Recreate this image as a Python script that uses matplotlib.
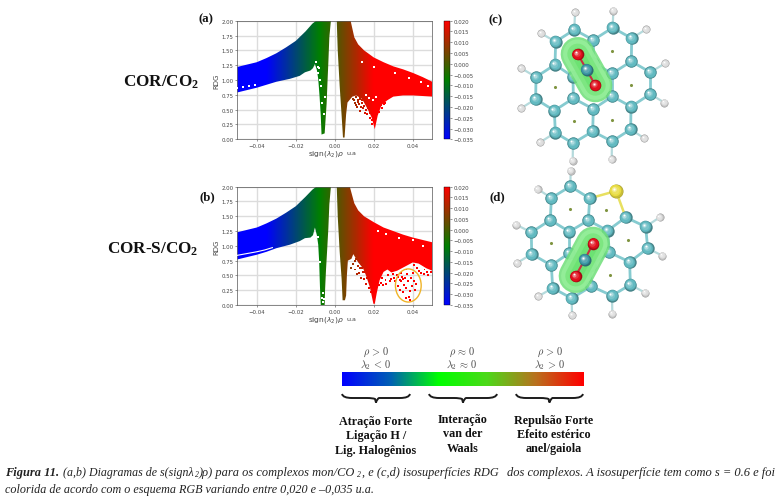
import numpy as np
import matplotlib
matplotlib.use("Agg")
import matplotlib.pyplot as plt
from matplotlib.colors import LinearSegmentedColormap, Normalize, to_rgb
from matplotlib.patches import Polygon, Ellipse, PathPatch
from matplotlib.path import Path
from matplotlib.cm import ScalarMappable

plt.rcParams['mathtext.fontset'] = 'custom'
plt.rcParams['mathtext.rm'] = 'Liberation Serif:bold'
plt.rcParams['mathtext.it'] = 'Liberation Serif:italic'
plt.rcParams['mathtext.bf'] = 'Liberation Serif:bold'

# ---------------- RDG data: envelopes ----------------
a_left_x = [-.05,-.045,-.04,-.035,-.03,-.025,-.02,-.015,-.0115,-.0095,-.002,-.0028,-.0033,-.0037,-.0042,-.0048,-.0052,-.0068,-.0072,-.0078,-.0085,-.0092,-.0102,-.0112,-.0125,-.0153,-.018,-.023,-.03,-.035,-.04,-.045,-.05]
a_left_y = [1.22,1.26,1.30,1.37,1.45,1.55,1.66,1.82,1.95,2.0,2.0,1.72,1.3,1.0,.6,.3,.1,.08,.4,.72,1.02,1.17,1.27,1.2,1.16,1.13,1.07,1.02,.97,.92,.87,.83,.79]
a_right_x = [.001,.0081,.01,.012,.015,.02,.025,.03,.035,.04,.045,.05,.05,.045,.04,.035,.03,.027,.024,.022,.0205,.019,.017,.014,.011,.009,.0075,.0065,.0058,.005,.0042,.0035,.0025,.0015]
a_right_y = [2.0,2.0,1.72,1.6,1.5,1.38,1.3,1.23,1.18,1.12,1.05,.97,.72,.73,.74,.74,.72,.66,.58,.4,.17,.36,.5,.68,.74,.72,.66,.62,.42,.03,.03,.4,.9,1.5]
a_dots_x = [.0095,.0105,.011,.012,.0125,.013,.0135,.014,.0145,.015,.0155,.016,.0165,.017,.0175,.018,.0185,.019,.0195,.02,.021,.022,.023,.024,.025,.0115,.013,.015,.016,.018,.019,.0205,.0215,.0225,.0235,.01,.0108,.0118,.0128,.0138,.0148,.0158,.0168,.0178,.0188,.0198,.0208,.0218,.0228,.0238,.0248,.0258,.0268]
a_dots_y = [.68,.62,.72,.66,.6,.72,.55,.66,.52,.7,.45,.62,.42,.58,.78,.36,.68,.32,.55,.74,.5,.58,.66,.52,.6,.55,.48,.76,.5,.44,.26,.34,.72,.46,.7,.66,.58,.63,.68,.61,.56,.74,.52,.66,.48,.4,.62,.54,.64,.58,.66,.62,.68]
a_white_x = [-.0088,-.0085,-.008,-.0078,-.0072,-.0065,-.0055,-.0048,-.0105,-.0098,.014,.02,.031,.038,.044,.048,-.05,-.047,-.044,-.041,.016,.0175,.0195,.021]
a_white_y = [1.22,1.12,1.2,1.0,.9,.62,.42,.72,1.18,1.3,1.3,1.22,1.12,1.03,.97,.9,.87,.88,.9,.92,.74,.7,.66,.72]

b_left_x = [-.05,-.045,-.04,-.035,-.03,-.025,-.02,-.015,-.0115,-.0095,-.002,-.0028,-.0033,-.0038,-.0045,-.005,-.0052,-.0072,-.0076,-.008,-.0085,-.0092,-.0102,-.0112,-.0125,-.0153,-.018,-.023,-.03,-.035,-.04,-.045,-.05]
b_left_y = [1.23,1.27,1.31,1.38,1.46,1.56,1.67,1.83,1.95,2.0,2.0,1.7,1.3,1.0,.6,.25,0,0,.3,.72,1.02,1.18,1.31,1.18,1.14,1.13,1.08,1.02,.96,.9,.85,.81,.77]
b_right_x = [.001,.0077,.01,.012,.015,.02,.025,.03,.035,.04,.045,.05,.05,.047,.043,.04,.036,.032,.029,.027,.025,.023,.0215,.0205,.0198,.018,.016,.0145,.012,.0095,.0085,.0067,.0062,.0058,.0052,.004,.0035,.0025,.0015]
b_right_y = [2.0,2.0,1.72,1.6,1.5,1.4,1.31,1.25,1.19,1.14,1.1,1.06,.58,.62,.7,.72,.65,.58,.55,.6,.56,.42,.2,.02,.02,.3,.5,.62,.72,.86,.78,.75,.5,.16,.08,.08,.44,.9,1.5]
b_dots_x = [.0085,.0095,.0105,.011,.012,.0125,.013,.0135,.014,.015,.0155,.016,.017,.0175,.018,.0185,.019,.0225,.024,.026,.0275,.029,.03,.031,.0325,.034,.035,.0365,.042,.044,.046,.048,.0495,.0405,.0455,.0102,.0115,.0128,.0142,.0152,.0165,.0178,.0225,.0235,.0248,.0265,.0285,.0305,.0318,.0335,.0432,.0472]
b_dots_y = [.62,.7,.6,.78,.66,.54,.72,.46,.62,.44,.68,.36,.58,.28,.42,.22,.34,.34,.46,.42,.5,.44,.52,.4,.48,.54,.44,.6,.62,.54,.6,.5,.55,.68,.52,.74,.52,.62,.56,.56,.46,.48,.46,.38,.34,.36,.4,.46,.5,.42,.58,.56]
b_oval_x = [.0325,.0335,.034,.035,.0355,.036,.0365,.037,.0375,.038,.0385,.039,.0395,.04,.0405,.041,.0415,.0365,.0385,.0345]
b_oval_y = [.32,.26,.4,.22,.34,.46,.28,.52,.4,.14,.24,.46,.32,.54,.4,.26,.36,.12,.09,.48]
b_white_x = [-.05,-.045,-.04,-.036,-.032]
b_white_y = [.84,.87,.9,.93,.97]
b_speck_x = [-.0068,-.0062,-.0055,-.0075,-.0085,-.0058,.022,.026,.033,.04,.045]
b_speck_y = [.12,.2,.1,.72,1.15,.05,1.25,1.2,1.14,1.1,1.0]

x_ticks = [-.04,-.02,0,.02,.04]
x_tick_labels = ['−0.04','−0.02','0.00','0.02','0.04']
y_ticks = [0,.25,.5,.75,1,1.25,1.5,1.75,2]
y_tick_labels = ['0.00','0.25','0.50','0.75','1.00','1.25','1.50','1.75','2.00']
cb_ticks = [.02,.015,.01,.005,0,-.005,-.01,-.015,-.02,-.025,-.03,-.035]
cb_tick_labels = ['0.020','0.015','0.010','0.005','0.000','−0.005','−0.010','−0.015','−0.020','−0.025','−0.030','−0.035']

# ---------------- molecule atoms, in page pixels ----------------
def zc(p): return [(480+x/3, 5+y/3) for x, y in p]
def zd(p): return [(480+x/3, 170+y/3) for x, y in p]
c_carbons = zc([(283,77),(340,108),(398,71),(455,103),(227,113),(225,182),(168,219),(167,285),(223,320),(280,283),(279,218),(340,315),(397,277),(397,208),(454,172),(511,205),(511,270),(453,308),(452,376),(396,412),(338,382),(279,418),(226,386),(340,178)])
c_hydrogens = zc([(285,25),(400,20),(498,76),(555,178),(553,296),(493,403),(395,466),(278,470),(180,415),(123,313),(124,193),(183,88)])
c_dots = zc([(397,142),(224,250),(454,242),(281,351),(396,347)])
c_co2 = zc([(293,150),(320,197),(346,244)])
d_carbons = zd([(271,52),(329,88),(214,87),(211,153),(154,190),(155,255),(214,289),(268,188),(325,154),(383,185),(437,145),(497,173),(503,238),(449,279),(388,250),(451,347),(396,380),(334,352),(275,388),(218,357),(268,252),(330,290)])
d_hydrogens = zd([(272,5),(173,60),(108,167),(111,282),(175,382),(276,438),(397,434),(495,371),(547,260),(539,145)])
d_sulfur = zd([(408,66)])
d_dots = zd([(270,121),(379,124),(443,213),(212,222),(390,318)])
d_co2 = zd([(339,224),(314,272),(287,321)])

# ---------------- figure ----------------
W, H = 782, 502
fig = plt.figure(figsize=(W/100, H/100), dpi=100, facecolor='white')
cmap = LinearSegmentedColormap.from_list('rdg', [(0,0,1), (0,.5,0), (1,0,0)])
norm = Normalize(-.035, .02)
def rect(l, t, r, b): return [l/W, 1-b/H, (r-l)/W, (b-t)/H]

page = fig.add_axes([0,0,1,1], zorder=0)
page.set_xlim(0, W); page.set_ylim(H, 0); page.axis('off')

GRAD = np.linspace(-.05, .05, 500)[None, :]
TXT = '#444444'

def panel(top, bottom, polys, dots, whites, white_line=None, oval=None, extra=None):
    ax = fig.add_axes(rect(237.3, top, 432.3, bottom), zorder=2)
    ax.set_xlim(-.05, .05); ax.set_ylim(0, 2)
    ax.grid(True, color='#dcdcdc', lw=1.0); ax.set_axisbelow(True)
    for px, py in polys:
        patch = Polygon(np.column_stack([px, py]), closed=True, transform=ax.transData, fc='none', ec='none')
        ax.add_patch(patch)
        im = ax.imshow(GRAD, cmap=cmap, norm=norm, extent=(-.05, .05, 0, 2), aspect='auto', zorder=2, interpolation='bilinear')
        im.set_clip_path(patch)
    ax.set_xlim(-.05, .05); ax.set_ylim(0, 2)
    ax.scatter(dots[0], dots[1], c=dots[0], cmap=cmap, norm=norm, s=2.0, marker='s', lw=0, zorder=3)
    if extra is not None:
        ax.scatter(extra[0], extra[1], c=extra[0], cmap=cmap, norm=norm, s=2.0, marker='s', lw=0, zorder=3)
    ax.scatter(whites[0], whites[1], c='white', s=1.4, marker='s', lw=0, zorder=3)
    if white_line is not None:
        ax.plot(white_line[0], white_line[1], color='white', lw=.8, zorder=3)
    if oval is not None:
        ax.add_patch(Ellipse(oval, .0132, .56, fc='none', ec='#f0b428', lw=1.0, zorder=4))
    ax.set_xticks(x_ticks, x_tick_labels); ax.set_yticks(y_ticks, y_tick_labels)
    ax.tick_params(labelsize=3.9, length=1.5, width=.4, pad=1.2, colors=TXT)
    for s in ax.spines.values():
        s.set_linewidth(.5); s.set_color('#555555')
    ax.set_ylabel('RDG', fontsize=5, labelpad=1.5, color=TXT)
    cax = fig.add_axes(rect(444.3, top, 450, bottom), zorder=2)
    cb = fig.colorbar(ScalarMappable(norm=norm, cmap=cmap), cax=cax)
    cb.set_ticks(cb_ticks, labels=cb_tick_labels)
    cb.ax.tick_params(labelsize=3.9, length=1.2, width=.4, pad=1.2, colors=TXT)
    cb.outline.set_linewidth(.3)
    page.text(326, bottom+14, r'sign($\lambda_2$)$\rho$', fontsize=5.4, color=TXT, ha='center', va='center', math_fontfamily='dejavusans')
    page.text(351, bottom+13.5, 'u.a', fontsize=4.6, color=TXT, ha='center', va='center')

panel(21.7, 140.3, [(a_left_x, a_left_y), (a_right_x, a_right_y)], (a_dots_x, a_dots_y), (a_white_x, a_white_y))
panel(187.7, 306, [(b_left_x, b_left_y), (b_right_x, b_right_y)], (b_dots_x, b_dots_y), (b_speck_x, b_speck_y),
      white_line=(b_white_x, b_white_y), oval=(.0377, .33), extra=(b_oval_x, b_oval_y))

# ---------------- row labels ----------------
serif = 'Liberation Serif'
for x, y, s in [(206, 19, '(a)'), (207, 197, '(b)'), (496, 20, '(c)'), (497, 197, '(d)')]:
    page.text(x, y, s, family=serif, weight='bold', fontsize=9.2, ha='center', va='center', color='#151515')
page.text(161, 82, r'COR/CO$_{\mathbf{2}}$', family=serif, weight='bold', fontsize=12.3, ha='center', va='center', color='#111111')
page.text(153, 249, r'COR-S/CO$_{\mathbf{2}}$', family=serif, weight='bold', fontsize=12.3, ha='center', va='center', color='#111111')

# ---------------- molecules ----------------
def sphere(pts, r, col, z):
    xs, ys = zip(*pts)
    base = np.array(to_rgb(col))
    steps = [(1.0, .70, 0), (.94, .86, .03), (.82, 1.0, .08), (.58, 1.1, .16), (.34, 1.3, .24), (.15, 1.7, .30)]
    for i, (f, m, off) in enumerate(steps):
        c = np.clip(base*m, 0, 1) if m <= 1 else np.clip(base + (1-base)*(m-1)*1.6, 0, 1)
        page.scatter(np.array(xs)-off*r, np.array(ys)-off*r, s=(2*f*r*.72)**2, color=[c], lw=0, zorder=z+i*.01)

def bonds(pts, cutoff, col, lw, z):
    P = np.array(pts)
    for i in range(len(P)):
        for j in range(i+1, len(P)):
            if np.hypot(*(P[i]-P[j])) < cutoff:
                page.plot(P[[i,j],0], P[[i,j],1], color=col, lw=lw, zorder=z, solid_capstyle='round')

def link(A, B, col, lw, z):
    for a in A:
        B2 = np.array(B)
        d = np.hypot(*(B2-np.array(a)).T)
        k = d.argmin()
        page.plot([a[0], B2[k,0]], [a[1], B2[k,1]], color=col, lw=lw, zorder=z)

def molecule(C, Hs, dots, co2, S=None):
    bc = '#86cbd0'
    bonds(C, 28, bc, 2.0, 1)
    link(Hs, C, '#b5dadc', 1.6, 1)
    if S is not None:
        for nb in (C[1], C[10]):
            page.plot([S[0][0], nb[0]], [S[0][1], nb[1]], color='#e8e060', lw=1.8, zorder=1)
    sphere(C, 6.2, '#62bac1', 2)
    sphere(Hs, 4.0, '#dcdcdc', 2)
    if S is not None:
        sphere(S, 7.0, '#e8dc40', 2)
    page.scatter(*zip(*dots), s=5, color='#7f9440', lw=0, zorder=2.5)
    P = np.array(co2)
    ends = P[[0, 2]]
    for lw, col, al in [(24.5, '#6fdf78', .85), (21, '#98f09c', .8), (15, '#74e478', .7), (9, '#62e06a', .6)]:
        page.plot(ends[:,0], ends[:,1], color=col, lw=lw, alpha=al, solid_capstyle='round', zorder=3)
    page.plot(P[:,0], P[:,1], color='#c83040', lw=1.5, zorder=3.2)
    sphere([co2[1]], 6.0, '#3d98a6', 3.4)
    sphere([co2[0], co2[2]], 5.8, '#e0101c', 3.4)

molecule(c_carbons, c_hydrogens, c_dots, c_co2)
molecule(d_carbons, d_hydrogens, d_dots, d_co2, d_sulfur)

# ---------------- colour key ----------------
key_vals = np.linspace(0, 1, 400)[None, :]
key_cmap = LinearSegmentedColormap.from_list('key', [(0,0,1), (0,.38,.7), (0,1,0), (.3,.85,.1), (.72,.45,.12), (1,0,0)])
page.imshow(key_vals, cmap=key_cmap, extent=(341.7, 583, 386.7, 372.7), aspect='auto', zorder=1)
page.set_xlim(0, W); page.set_ylim(H, 0)

key_head_x = [376, 462, 550]
rho_labels = [r'$\rho\,>\,0$', r'$\rho\,\approx\,0$', r'$\rho\,>\,0$']
lam_labels = [r'$\lambda_2\,<\,0$', r'$\lambda_2\,\approx\,0$', r'$\lambda_2\,>\,0$']
for x, a, b in zip(key_head_x, rho_labels, lam_labels):
    page.text(x, 352, a, fontsize=7.4, ha='center', va='center', math_fontfamily='cm', color='#444444')
    page.text(x, 365, b, fontsize=7.4, ha='center', va='center', math_fontfamily='cm', color='#444444')

def brace(x0, x1, y0=395, y1=403.5):
    m = (x0+x1)/2
    verts = [(x0,y0),(x0+1,y0+4),(x0+10,y0+4),(m-9,y0+4),(m-3,y0+4),(m-1,y0+5),(m,y1),
             (m+1,y0+5),(m+3,y0+4),(m+9,y0+4),(x1-10,y0+4),(x1-1,y0+4),(x1,y0)]
    codes = [Path.MOVETO, Path.CURVE3, Path.CURVE3, Path.LINETO, Path.CURVE3, Path.CURVE3, Path.LINETO,
             Path.CURVE3, Path.CURVE3, Path.LINETO, Path.LINETO, Path.CURVE3, Path.CURVE3]
    page.add_patch(PathPatch(Path(verts, codes), fc='none', ec='#1c1c1c', lw=1.4, zorder=2))
for x0, x1 in [(342, 410), (429, 497), (516, 583)]:
    brace(x0, x1)

key_text_x = [376, 463, 554]
key_text_y = [[422, 436, 451], [420, 434, 449], [421, 435, 449]]
key_text = [['Atração Forte', 'Ligação H /', 'Lig. Halogênios'],
            ['Interação', 'van der', 'Waals'],
            ['Repulsão Forte', 'Efeito estérico', 'anel/gaiola']]
for x, ys, lines in zip(key_text_x, key_text_y, key_text):
    for y, s in zip(ys, lines):
        page.text(x, y, s, family=serif, weight='bold', fontsize=8.75, ha='center', va='center', color='#111111')

# ---------------- caption ----------------
cap_kw = dict(family=serif, style='italic', va='center', color='#222222')
sub_kw = dict(family=serif, style='italic', fontsize=5.6, va='center', color='#222222')
page.text(5, 473, 'Figura 11.', weight='bold', ha='left', fontsize=8.9, **cap_kw)
page.text(63, 473, '(a,b) Diagramas de s(signλ', ha='left', fontsize=8.6, **cap_kw)
page.text(195, 475.5, '2', ha='left', **sub_kw)
page.text(199, 473, ')ρ) para os complexos mon/CO', ha='left', fontsize=8.9, **cap_kw)
page.text(357, 475.5, '2', ha='left', **sub_kw)
page.text(361.5, 473, ', e (c,d) isosuperfícies RDG', ha='left', fontsize=8.8, **cap_kw)
page.text(775, 473, 'dos complexos. A isosuperfície tem como s = 0.6 e foi', ha='right', fontsize=9.0, **cap_kw)
page.text(5, 490, 'colorida de acordo com o esquema RGB variando entre 0,020 e –0,035 u.a.', ha='left', fontsize=8.7, **cap_kw)

fig.savefig('out.png', dpi=100, facecolor='white')
